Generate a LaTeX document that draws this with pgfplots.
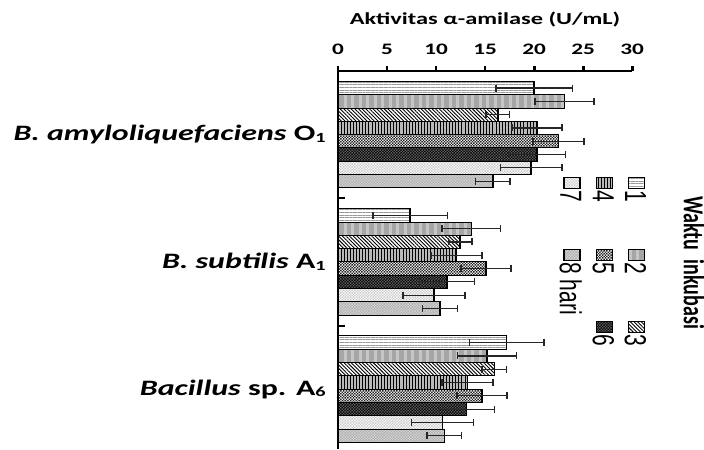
\documentclass[border=0pt]{standalone}
\usepackage{graphicx}
\usepackage{fontspec}
\setmainfont{Carlito}
\newfontfamily\arialf{Liberation Sans}
\usepackage{pgfplots}
\usepackage{pgfplotstable}
\pgfplotsset{compat=1.18}
\usetikzlibrary{patterns,patterns.meta}
\newcommand\sub[1]{\raisebox{-1.5pt}{\fontsize{14}{14}\selectfont #1}}
\pgfdeclarepatternformonly{finecheck}{\pgfqpoint{-0.1pt}{-0.1pt}}{\pgfqpoint{2.9pt}{2.9pt}}{\pgfqpoint{2.8pt}{2.8pt}}{%
  \pgfpathrectangle{\pgfqpoint{0pt}{0pt}}{\pgfqpoint{1.4pt}{1.4pt}}%
  \pgfpathrectangle{\pgfqpoint{1.4pt}{1.4pt}}{\pgfqpoint{1.4pt}{1.4pt}}%
  \pgfusepath{fill}}

\pgfplotstableread{
x y e
20.0 0 3.9
7.35 1 3.8
17.2 2 3.8
}\dA
\pgfplotstableread{
x y e
23.1 0 3.0
13.6 1 3.0
15.2 2 3.0
}\dB
\pgfplotstableread{
x y e
16.3 0 1.2
12.45 1 1.2
15.95 2 1.25
}\dC
\pgfplotstableread{
x y e
20.3 0 2.55
12.1 1 2.6
13.2 2 2.6
}\dD
\pgfplotstableread{
x y e
22.5 0 2.6
15.1 1 2.55
14.7 2 2.55
}\dE
\pgfplotstableread{
x y e
20.3 0 2.9
11.1 1 2.8
13.1 2 2.85
}\dF
\pgfplotstableread{
x y e
19.7 0 3.15
9.8 1 3.15
10.65 2 3.15
}\dG
\pgfplotstableread{
x y e
15.8 0 1.75
10.4 1 1.8
10.85 2 1.75
}\dH

\begin{document}
\scalebox{1.45}[1]{%
\begin{tikzpicture}
\useasboundingbox (0,0) rectangle (485.5pt,449pt);
\begin{axis}[
  at={(233.1pt,0pt)}, anchor=south west,
  scale only axis, width=202.8pt, height=378pt,
  xmin=0, xmax=30, ymin=-0.5, ymax=2.47,
  y dir=reverse,
  axis x line*=top, axis y line*=left,
  x axis line style={line width=2pt},
  y axis line style={line width=2pt},
  xtick={0,5,...,30},
  tick align=outside,
  major tick length=5pt,
  xtick style={line width=2pt, black},
  xticklabel style={font=\bfseries\fontsize{16}{16}\selectfont, yshift=8pt},
  /pgf/number format/assume math mode=true,
  ytick={0,1,2},
  yticklabels={{\textit{B. amyloliquefaciens} O\sub{1}},{\textit{B. subtilis} A\sub{1}},{\textit{Bacillus} sp. A\sub{6}}},
  yticklabel style={font=\bfseries\fontsize{22}{22}\selectfont},
  ytick style={draw=none},
  extra y ticks={0.5,1.5},
  extra y tick labels={},
  extra y tick style={tick align=inside, major tick length=5pt, ytick style={draw=black, line width=2pt}},
  xlabel={Aktivitas α-amilase (U/mL)},
  xlabel style={font=\bfseries\fontsize{16.8}{16.8}\selectfont, at={(axis description cs:0.5,1)}, anchor=center, yshift=51pt},
  xbar=0pt, bar width=0.1045,
  every axis plot/.append style={draw=black, line width=1pt,
    error bars/x dir=both, error bars/x explicit,
    error bars/error bar style={line width=1.2pt, black!85},
    error bars/error mark options={rotate=90, mark size=3.5pt, line width=1pt, black!85}},
  every axis plot post/.append style={legend image code/.code={\draw[##1] (0pt,-4pt) rectangle (11pt,7pt);}},
  legend columns=3,
  legend cell align=left,
  legend to name=leg,
  legend style={draw=none, fill=none, inner sep=0pt,
    font=\arialf\fontsize{21}{21}\selectfont,
    nodes={inner sep=1pt},
    /tikz/row sep=4pt},
]
\addplot[fill=white, postaction={pattern={Lines[angle=0,distance=2.6pt,line width=1pt]}, pattern color=gray!80}]
  table[x=x,y=y,x error=e]{\dA};
\addlegendentry{\makebox[58pt][l]{1}}
\addplot[fill=gray!70, postaction={pattern={Lines[angle=90,distance=7.5pt,line width=3pt]}, pattern color=gray!45}]
  table[x=x,y=y,x error=e]{\dB};
\addlegendentry{\makebox[58pt][l]{2}}
\addplot[fill=white, postaction={pattern={Lines[angle=-45,distance=2.6pt,line width=0.9pt]}, pattern color=black}]
  table[x=x,y=y,x error=e]{\dC};
\addlegendentry{\makebox[58pt][l]{3}}
\addplot[fill=gray!55, postaction={pattern={Lines[angle=90,distance=3.1pt,line width=1pt]}, pattern color=black}]
  table[x=x,y=y,x error=e]{\dD};
\addlegendentry{\makebox[58pt][l]{4}}
\addplot[fill=white, postaction={pattern=finecheck, pattern color=black!85}]
  table[x=x,y=y,x error=e]{\dE};
\addlegendentry{\makebox[58pt][l]{5}}
\addplot[fill=black, postaction={pattern=finecheck, pattern color=black!65}]
  table[x=x,y=y,x error=e]{\dF};
\addlegendentry{\makebox[58pt][l]{6}}
\addplot[fill=white, postaction={pattern=finecheck, pattern color=gray!40}]
  table[x=x,y=y,x error=e]{\dG};
\addlegendentry{\makebox[58pt][l]{7}}
\addplot[fill=gray!65, postaction={pattern=finecheck, pattern color=gray!35}]
  table[x=x,y=y,x error=e]{\dH};
\addlegendentry{\makebox[58pt][l]{8 hari}}
\end{axis}
\node[rotate=-90, anchor=north west, inner sep=0pt] at (446.8pt,272pt) {\pgfplotslegendfromname{leg}};
\node[rotate=-90, inner sep=0pt, font=\bfseries\fontsize{20}{20}\selectfont] at (478.6pt,186.5pt) {Waktu\ \ inkubasi};
\end{tikzpicture}}
\end{document}
